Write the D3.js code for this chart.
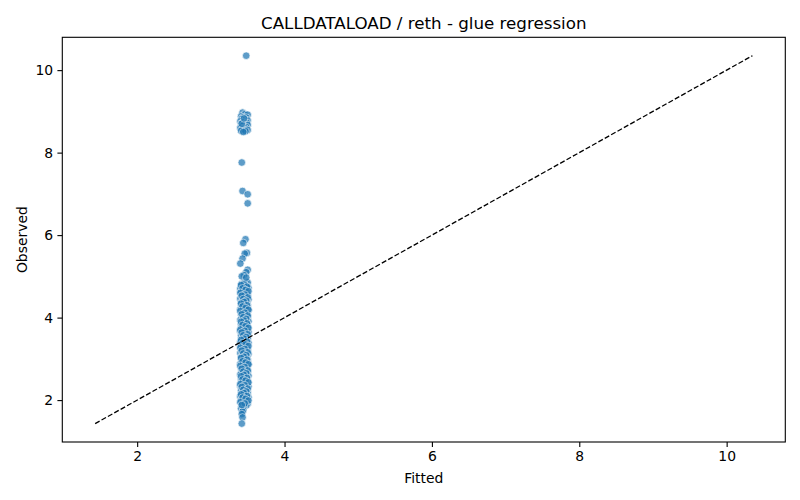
<!DOCTYPE html>
<html>
<head>
<meta charset="utf-8">
<script src="https://cdn.jsdelivr.net/npm/d3@7"></script>
<style>
  html, body { margin: 0; padding: 0; background: #fff; }
  svg { display: block; font-family: "DejaVu Sans", sans-serif; }
</style>
</head>
<body>
<svg id="chart" width="800" height="500"></svg>
<script>
const title = "CALLDATALOAD / reth - glue regression";
const xLabel = "Fitted";
const yLabel = "Observed";
const xTicks = [2, 4, 6, 8, 10];
const yTicks = [2, 4, 6, 8, 10];
// identity reference line end points
const refLine = [1.43, 10.35];

// outliers above the dense column
const outlierPoints = [
  [3.48,10.35],[3.42,7.76],[3.43,7.07],[3.50,6.99],[3.50,6.77],[3.47,5.90],[3.44,5.81],
  [3.49,5.57],[3.46,5.55],[3.43,5.43],[3.40,5.31],[3.50,5.16],[3.48,5.10],[3.45,5.03],
  [3.42,5.00],[3.48,4.97]
];
// cluster around 8.5 - 9
const highCluster = [
  [3.43,8.97],[3.46,8.93],[3.50,8.92],[3.41,8.88],[3.44,8.86],[3.48,8.85],[3.42,8.82],
  [3.47,8.80],[3.50,8.78],[3.40,8.76],[3.45,8.75],[3.43,8.73],[3.49,8.72],[3.41,8.70],
  [3.46,8.69],[3.50,8.67],[3.44,8.66],[3.42,8.64],[3.48,8.62],[3.40,8.60],[3.46,8.59],
  [3.43,8.57],[3.50,8.55],[3.41,8.53],[3.47,8.52],[3.44,8.50],[3.42,8.70],[3.45,8.83]
];
// dense column (first layer)
const denseA = [
  [3.47,4.88],[3.50,4.85],[3.42,4.82],[3.45,4.80],[3.41,4.78],[3.48,4.76],[3.44,4.74],[3.51,4.72],
  [3.40,4.70],[3.46,4.68],[3.43,4.66],[3.49,4.63],[3.41,4.61],[3.47,4.59],[3.44,4.57],[3.50,4.55],
  [3.42,4.52],[3.48,4.50],[3.45,4.48],[3.40,4.46],[3.51,4.44],[3.43,4.42],[3.46,4.40],[3.49,4.37],
  [3.41,4.35],[3.47,4.33],[3.44,4.31],[3.50,4.29],[3.42,4.26],[3.48,4.24],[3.45,4.22],[3.40,4.20],
  [3.51,4.18],[3.43,4.15],[3.46,4.13],[3.49,4.11],[3.41,4.09],[3.47,4.07],[3.44,4.04],[3.50,4.02],
  [3.42,4.00],[3.48,3.98],[3.45,3.96],[3.40,3.94],[3.51,3.91],[3.43,3.89],[3.46,3.87],[3.49,3.85],
  [3.41,3.83],[3.47,3.80],[3.44,3.78],[3.50,3.76],[3.42,3.74],[3.48,3.72],[3.45,3.69],[3.40,3.67],
  [3.51,3.65],[3.43,3.63],[3.46,3.61],[3.49,3.58],[3.41,3.56],[3.47,3.54],[3.44,3.52],[3.50,3.50],
  [3.42,3.47],[3.48,3.45],[3.45,3.43],[3.40,3.41],[3.51,3.39],[3.43,3.36],[3.46,3.34],[3.49,3.32],
  [3.41,3.30],[3.47,3.28],[3.44,3.25],[3.50,3.23],[3.42,3.21],[3.48,3.19],[3.45,3.17],[3.40,3.14],
  [3.51,3.12],[3.43,3.10],[3.46,3.08],[3.49,3.06],[3.41,3.03],[3.47,3.01],[3.44,2.99],[3.50,2.97],
  [3.42,2.95],[3.48,2.92],[3.45,2.90],[3.40,2.88],[3.51,2.86],[3.43,2.84],[3.46,2.81],[3.49,2.79],
  [3.41,2.77],[3.47,2.75],[3.44,2.73],[3.50,2.70],[3.42,2.68],[3.48,2.66],[3.45,2.64],[3.40,2.62],
  [3.51,2.59],[3.43,2.57],[3.46,2.55],[3.49,2.53],[3.41,2.51],[3.47,2.48],[3.44,2.46],[3.50,2.44],
  [3.42,2.42],[3.48,2.40],[3.45,2.37],[3.40,2.35],[3.51,2.33],[3.43,2.31],[3.46,2.29],[3.49,2.26],
  [3.41,2.24],[3.47,2.22],[3.44,2.20],[3.50,2.18],[3.42,2.15],[3.48,2.13],[3.45,2.11],[3.40,2.09],
  [3.51,2.07],[3.43,2.04],[3.46,2.02],[3.49,2.00],[3.41,1.98],[3.47,1.96],[3.44,1.93],[3.50,1.91],
  [3.42,1.89],[3.48,1.87],[3.45,1.85],[3.41,1.80],[3.44,1.76],[3.43,1.72],[3.42,1.66],[3.43,1.58],
  [3.42,1.43]
];
// dense column (second layer)
const denseB = [
  [3.45,4.83],[3.41,4.79],[3.49,4.75],[3.43,4.71],[3.47,4.67],[3.51,4.64],[3.40,4.60],[3.46,4.56],
  [3.42,4.53],[3.50,4.49],[3.44,4.45],[3.48,4.41],[3.45,4.38],[3.41,4.34],[3.49,4.30],[3.43,4.27],
  [3.47,4.23],[3.51,4.19],[3.40,4.16],[3.46,4.12],[3.42,4.08],[3.50,4.05],[3.44,4.01],[3.48,3.97],
  [3.45,3.93],[3.41,3.90],[3.49,3.86],[3.43,3.82],[3.47,3.79],[3.51,3.75],[3.40,3.71],[3.46,3.68],
  [3.42,3.64],[3.50,3.60],[3.44,3.57],[3.48,3.53],[3.45,3.49],[3.41,3.46],[3.49,3.42],[3.43,3.38],
  [3.47,3.35],[3.51,3.31],[3.40,3.27],[3.46,3.24],[3.42,3.20],[3.50,3.16],[3.44,3.13],[3.48,3.09],
  [3.45,3.05],[3.41,3.02],[3.49,2.98],[3.43,2.94],[3.47,2.91],[3.51,2.87],[3.40,2.83],[3.46,2.80],
  [3.42,2.76],[3.50,2.72],[3.44,2.69],[3.48,2.65],[3.45,2.61],[3.41,2.58],[3.49,2.54],[3.43,2.50],
  [3.47,2.47],[3.51,2.43],[3.40,2.39],[3.46,2.36],[3.42,2.32],[3.50,2.28],[3.44,2.25],[3.48,2.21],
  [3.45,2.17],[3.41,2.14],[3.49,2.10],[3.43,2.06],[3.47,2.03],[3.51,1.99],[3.40,1.95],[3.46,1.92],
  [3.42,1.88]
];

const points = [].concat(denseA, denseB, highCluster, outlierPoints);

const svg = d3.select("#chart");
const m = { left: 62.3, right: 785.3, top: 37.3, bottom: 442 };

const pad = (refLine[1] - refLine[0]) * 0.05;
const x = d3.scaleLinear().domain([refLine[0] - pad, refLine[1] + pad]).range([m.left, m.right]);
const y = d3.scaleLinear().domain([refLine[0] - pad, refLine[1] + pad]).range([m.bottom, m.top]);

// points
svg.append("g")
  .selectAll("circle")
  .data(points)
  .enter().append("circle")
  .attr("cx", d => x(d[0]))
  .attr("cy", d => y(d[1]))
  .attr("r", 3.8)
  .attr("fill", "#1f77b4")
  .attr("stroke", "#ffffff")
  .attr("stroke-width", 0.7)
  .attr("opacity", 0.72);

// reference line
svg.append("line")
  .attr("x1", x(refLine[0])).attr("y1", y(refLine[0]))
  .attr("x2", x(refLine[1])).attr("y2", y(refLine[1]))
  .attr("stroke", "#000").attr("stroke-width", 1.3)
  .attr("stroke-dasharray", "5.1,2.2");

// axes
const xAxis = d3.axisBottom(x).tickValues(xTicks).tickFormat(d3.format("d")).tickSizeOuter(0).tickSize(4.9).tickPadding(4.2);
const yAxis = d3.axisLeft(y).tickValues(yTicks).tickFormat(d3.format("d")).tickSizeOuter(0).tickSize(4.9).tickPadding(4.2);

const gx = svg.append("g").attr("transform", `translate(0,${m.bottom})`).call(xAxis);
const gy = svg.append("g").attr("transform", `translate(${m.left},0)`).call(yAxis);
[gx, gy].forEach(g => {
  g.select(".domain").remove();
  g.selectAll(".tick line").attr("stroke", "#000").attr("stroke-width", 1.1);
  g.selectAll(".tick text").attr("fill", "#000")
    .style("font-family", "'DejaVu Sans', sans-serif").style("font-size", "13.9px");
});

// frame
svg.append("rect")
  .attr("x", m.left).attr("y", m.top)
  .attr("width", m.right - m.left).attr("height", m.bottom - m.top)
  .attr("fill", "none").attr("stroke", "#000").attr("stroke-width", 1.1);

// title & labels
svg.append("text")
  .attr("x", (m.left + m.right) / 2).attr("y", 29)
  .attr("text-anchor", "middle")
  .style("font-size", "16.7px")
  .text(title);

svg.append("text")
  .attr("x", (m.left + m.right) / 2).attr("y", 483)
  .attr("text-anchor", "middle")
  .style("font-size", "13.9px")
  .text(xLabel);

svg.append("text")
  .attr("transform", `translate(26.5,${(m.top + m.bottom) / 2}) rotate(-90)`)
  .attr("text-anchor", "middle")
  .style("font-size", "13.9px")
  .text(yLabel);
</script>
</body>
</html>
